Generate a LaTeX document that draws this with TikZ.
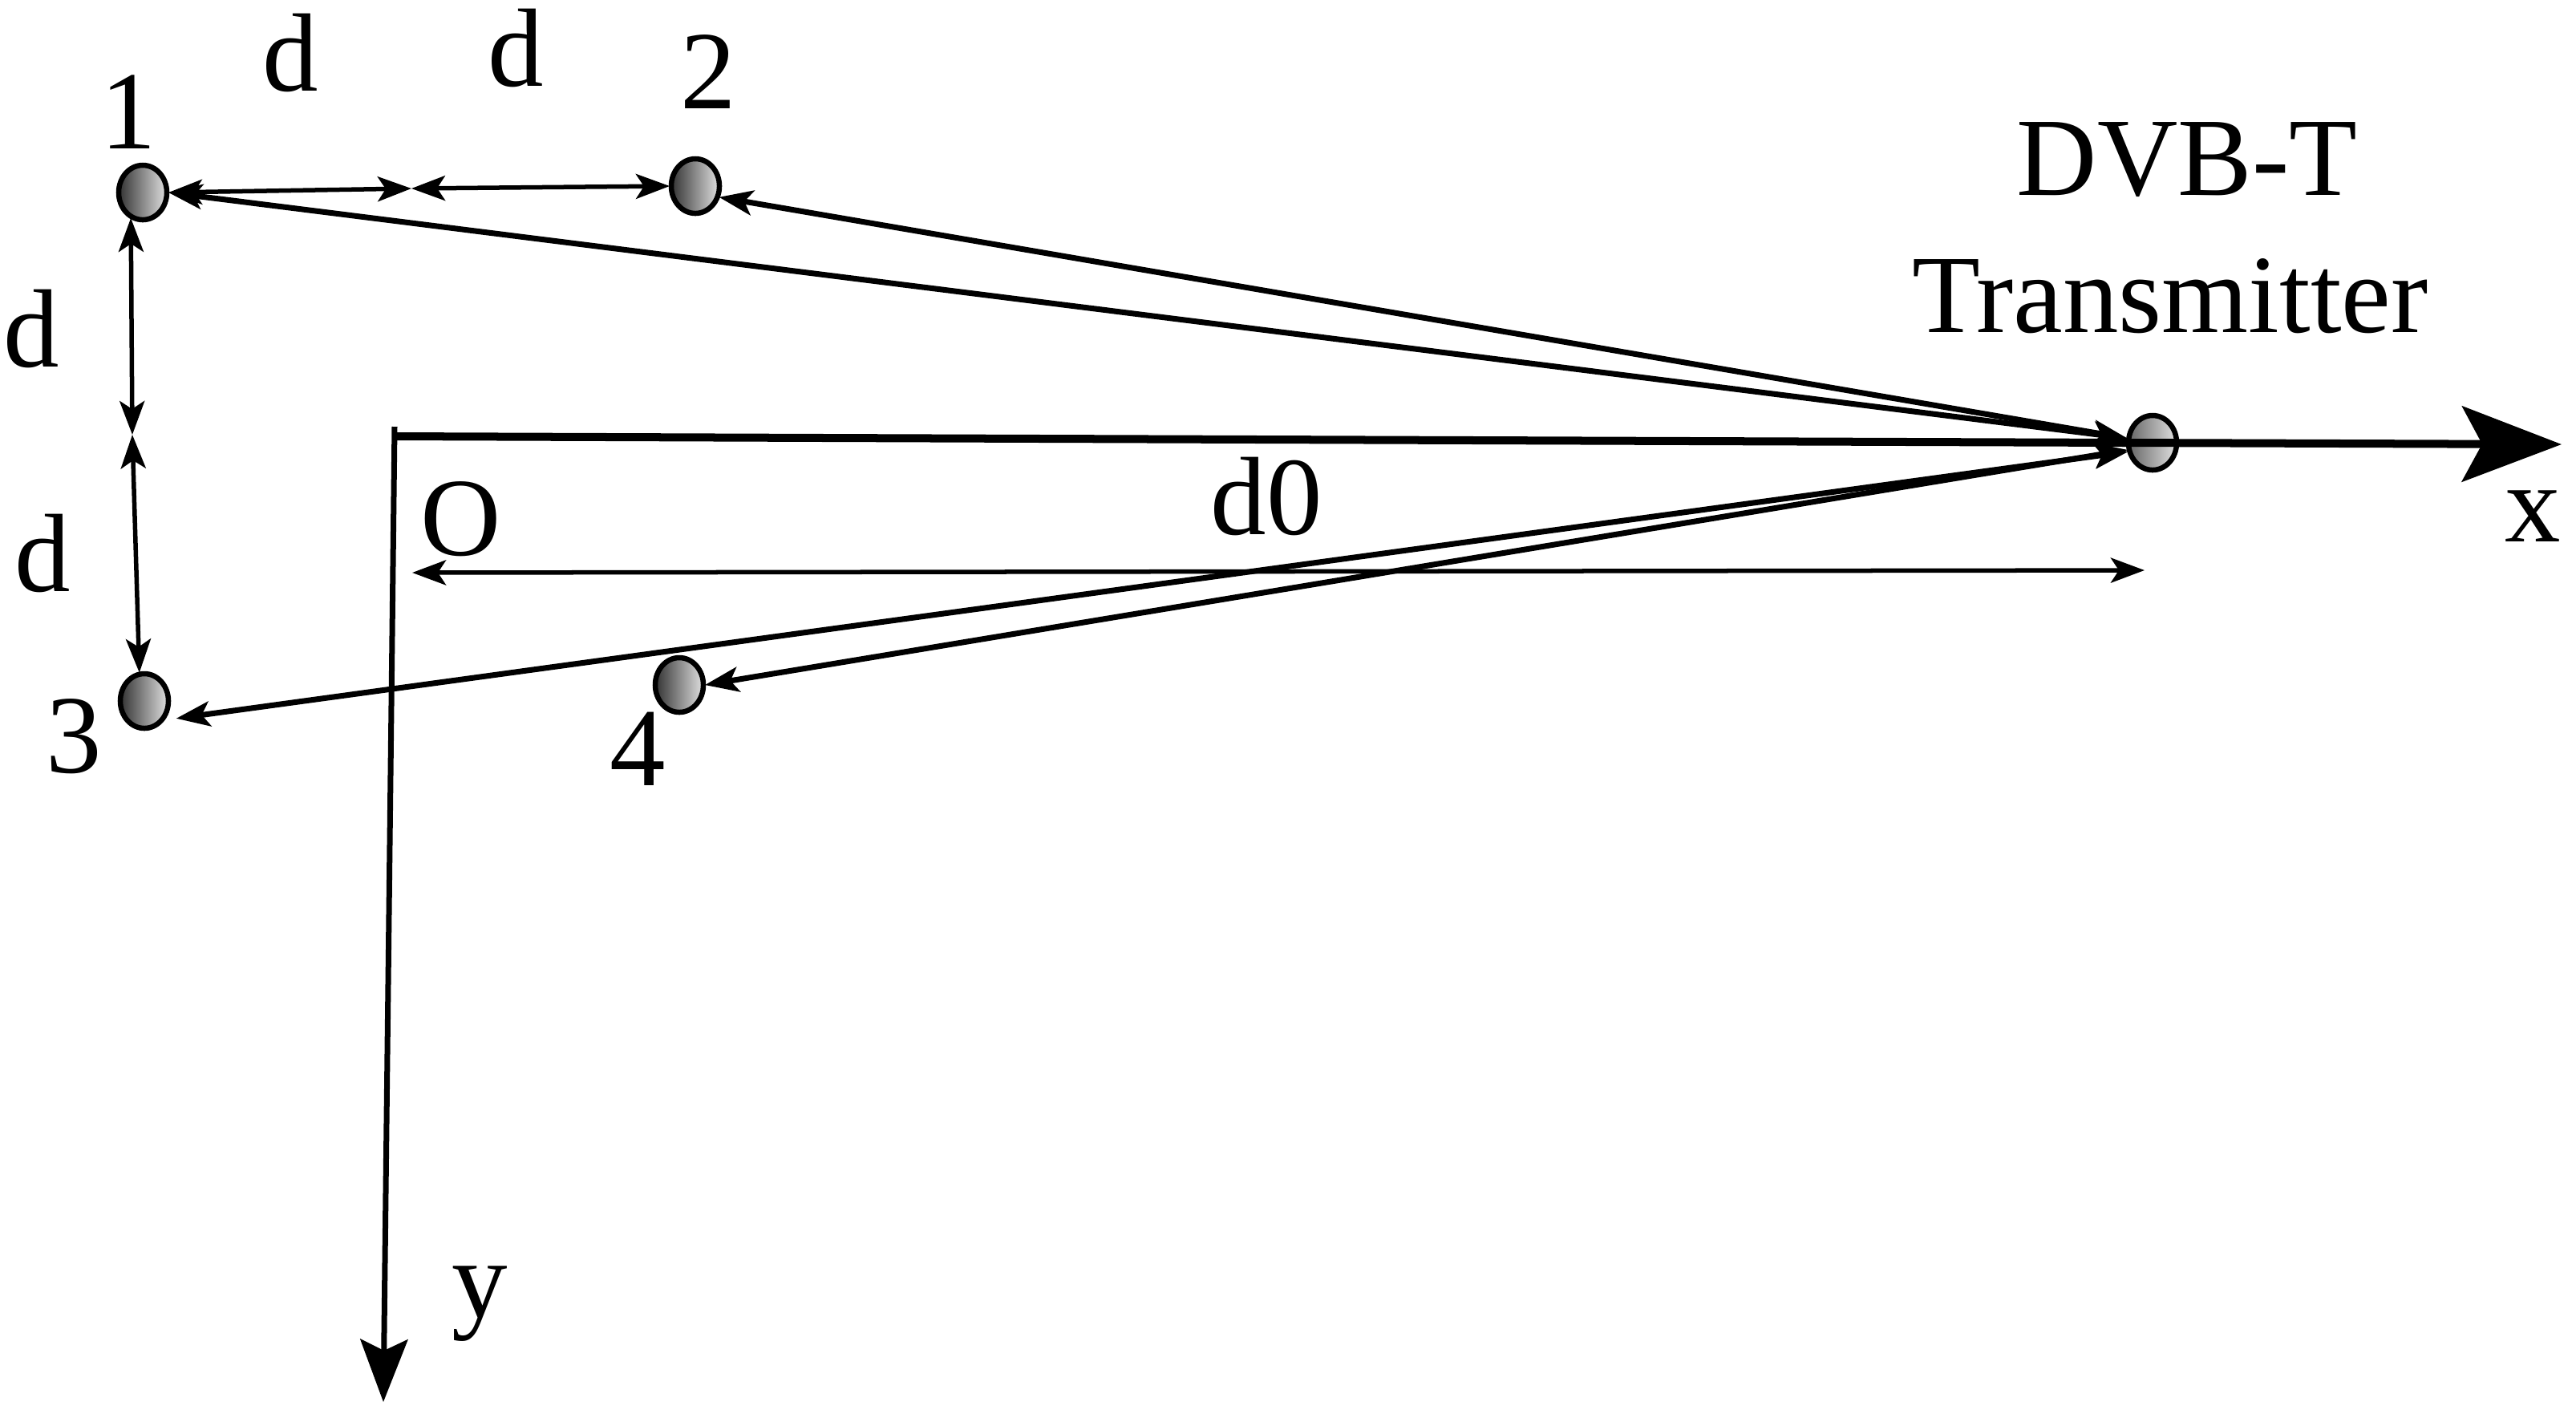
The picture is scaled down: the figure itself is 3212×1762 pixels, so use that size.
\documentclass[tikz,border=0pt]{standalone}
\usepackage{fontspec}
\setmainfont{Liberation Serif}
\usepackage{tikz}
\usetikzlibrary{arrows.meta,shapes.geometric}

\begin{document}
\begin{tikzpicture} [x=0.01cm,y=-0.01cm,
  capteur/.style=
  {ellipse, minimum width=0.6cm, minimum height=0.68cm, inner sep=0pt, outer sep=0.02cm,
    left color=black!80, right color=black!12,
    draw=black,line width=0.065cm},
  emetteur/.style=
  {capteur, left color=black!60, right color=black!12},
  texte/.style=
  {anchor=base, inner sep=0pt, font=\fontsize{39.5}{39.5}\selectfont},
  cote/.style=
  {line width=0.055cm, {Stealth[length=0.42cm,width=0.31cm,inset=0.1cm]}-{Stealth[length=0.42cm,width=0.31cm,inset=0.1cm]}},
  rayon/.style=
  {line width=0.07cm, {Stealth[length=0.42cm,width=0.31cm,inset=0.1cm]}-{Stealth[length=0.42cm,width=0.31cm,inset=0.1cm]}}]
\useasboundingbox (0,0) rectangle (3212,1762);
\node [capteur] (sensorA) at (178,240) {};
\node [capteur] (sensorB) at (867,232) {};
\node [capteur] (sensorC) at (180,874) {};
\node [capteur] (sensorD) at (847,854) {};
\node [emetteur] (transmitter) at (2684,552) {};
\coordinate (pseudoTop) at (513,235);
\coordinate (pseudoSide) at (165,542);
\coordinate (pseudoOrigin) at (492,532);
\coordinate (pseudoCorner) at (492,544);
\coordinate (pseudoX) at (3194,554);
\coordinate (pseudoY) at (478,1748);
\coordinate (pseudoLeft) at (514,714);
\coordinate (pseudoRight) at (2674,711);
\node [texte] (labelA) at (160,185) {1};
\node [texte] (labelB) at (883,135) {2};
\node [texte] (labelC) at (92,963) {3};
\node [texte] (labelD) at (795,979) {4};
\node [texte] (dTopA) at (362,113) {d};
\node [texte] (dTopB) at (643,107) {d};
\node [texte] (dSideA) at (39,457) {d};
\node [texte] (dSideB) at (53,737) {d};
\node [texte] (labelO) at (575,692) {O};
\node [texte] (labelDzero) at (1579,666) {d0};
\node [texte] (labelX) at (3158,675) {x};
\node [texte] (labelY) at (598,1642) {y};
\node [texte] (labelDvb) at (2727,243) {DVB-T};
\node [texte] (labelTx) at (2706,414) {Transmitter};
\draw [cote] (sensorA.east) -- (pseudoTop);
\draw [cote] (pseudoTop) -- (sensorB.west);
\draw [cote] (sensorA.-115) -- (pseudoSide);
\draw [cote] (pseudoSide) -- (sensorC.100);
\draw [cote] (pseudoLeft) -- (pseudoRight);
\draw [rayon] (sensorA.east) -- (transmitter.170);
\draw [rayon] (sensorB.-25) -- (transmitter.170);
\draw [rayon,shorten <=0.16cm] (sensorC.-45) -- (transmitter.200);
\draw [rayon] (sensorD.east) -- (transmitter.196);
\draw [line width=0.1cm, -{Stealth[length=1.24cm,width=0.94cm,inset=0.25cm]}] (pseudoCorner) -- (pseudoX);
\draw [line width=0.07cm, -{Stealth[length=0.78cm,width=0.59cm,inset=0.14cm]}] (pseudoOrigin) -- (pseudoY);
\end{tikzpicture}
\end{document}
